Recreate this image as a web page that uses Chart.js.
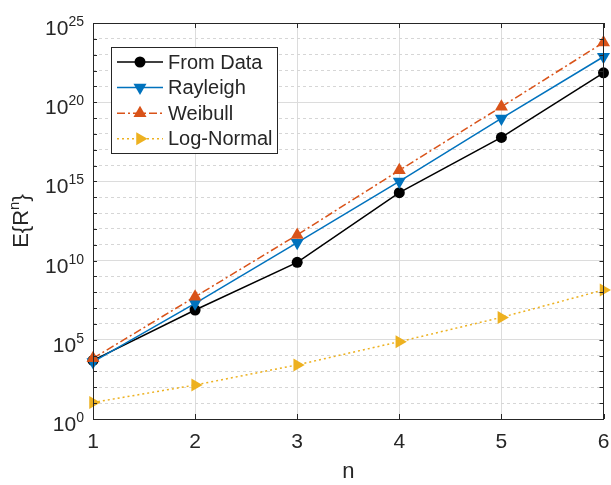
<!DOCTYPE html>
<html>
<head>
<meta charset="utf-8">
<script src="https://cdn.jsdelivr.net/npm/chart.js@4"></script>
<style>
  body { margin: 0; background: #fff; }
  #wrap { width: 611px; height: 485px; }
</style>
</head>
<body>
<div id="wrap"><canvas id="chart" width="611" height="485"></canvas></div>
<script>
// values (log axis)
const nValues = [1, 2, 3, 4, 5, 6];
const fromData = [5.0e3, 7.6e6, 7.8e9, 1.95e14, 6.0e17, 7.2e21];
const rayleigh = [4.0e3, 2.0e7, 1.35e11, 1.0e15, 9.5e18, 7.4e22];
const weibull = [6.8e3, 5.2e7, 4.2e11, 5.0e15, 5.2e19, 5.8e23];
const logNormal = [11, 1.4e2, 2.6e3, 7.6e4, 2.6e6, 1.4e8];
const yTickExps = [0, 5, 10, 15, 20, 25];

const FONT = "'Liberation Sans', Arial, Helvetica, sans-serif";
const AXIS = "#262626";

const toPoints = vals => vals.map((v, i) => ({ x: nValues[i], y: v }));

// draws a marker the same way for plot and legend
function marker(ctx, style, rot, r, x, y, color) {
  ctx.save();
  ctx.fillStyle = color;
  ctx.setLineDash([]);
  ctx.beginPath();
  if (style === "circle") {
    ctx.arc(x, y, r, 0, Math.PI * 2);
  } else {
    let a = rot * Math.PI / 180;
    ctx.moveTo(x + Math.sin(a) * r, y - Math.cos(a) * r);
    a += 2 * Math.PI / 3;
    ctx.lineTo(x + Math.sin(a) * r, y - Math.cos(a) * r);
    a += 2 * Math.PI / 3;
    ctx.lineTo(x + Math.sin(a) * r, y - Math.cos(a) * r);
    ctx.closePath();
  }
  ctx.fill();
  ctx.restore();
}

const frame = {
  id: "frame",
  afterDraw(chart) {
    const { ctx, chartArea: a, scales: { x, y } } = chart;
    ctx.save();
    ctx.strokeStyle = AXIS;
    ctx.lineWidth = 1;
    ctx.setLineDash([]);
    ctx.strokeRect(Math.round(a.left) + 0.5, Math.round(a.top) + 0.5,
      Math.round(a.right - a.left) - 1, Math.round(a.bottom - a.top));

    // inward ticks
    ctx.beginPath();
    for (let e = 0; e <= 25; e++) {
      const py = Math.round(y.getPixelForValue(Math.pow(10, e))) + 0.5;
      ctx.moveTo(a.left, py); ctx.lineTo(a.left + 4, py);
      ctx.moveTo(a.right, py); ctx.lineTo(a.right - 4, py);
    }
    nValues.forEach(n => {
      const px = Math.round(x.getPixelForValue(n)) + 0.5;
      ctx.moveTo(px, a.bottom); ctx.lineTo(px, a.bottom - 5);
      ctx.moveTo(px, a.top); ctx.lineTo(px, a.top + 5);
    });
    ctx.stroke();

    ctx.fillStyle = AXIS;
    ctx.textBaseline = "alphabetic";

    // x tick labels
    ctx.font = "21px " + FONT;
    ctx.textAlign = "center";
    nValues.forEach(n => {
      ctx.fillText(String(n), x.getPixelForValue(n), a.bottom + 29);
    });

    // y tick labels 10^k
    yTickExps.forEach(e => {
      const py = y.getPixelForValue(Math.pow(10, e));
      const right = 84;
      ctx.font = "14px " + FONT;
      const ew = ctx.measureText(String(e)).width;
      ctx.textAlign = "left";
      ctx.fillText(String(e), right - ew, py + 3);
      ctx.font = "21px " + FONT;
      ctx.textAlign = "right";
      ctx.fillText("10", right - ew, py + 12);
    });

    // y title E{R^n}, rotated
    const parts = [["E{R", 22, 0], ["n", 15, -9], ["}", 22, 0]];
    let total = 0;
    parts.forEach(p => { ctx.font = p[1] + "px " + FONT; total += ctx.measureText(p[0]).width; });
    ctx.translate(20, (a.top + a.bottom) / 2);
    ctx.rotate(-Math.PI / 2);
    ctx.textAlign = "left";
    let cx = -total / 2;
    parts.forEach(p => {
      ctx.font = p[1] + "px " + FONT;
      ctx.fillText(p[0], cx, 8 + p[2]);
      cx += ctx.measureText(p[0]).width;
    });
    ctx.restore();
  }
};

const legendBox = {
  id: "legendBox",
  afterDraw(chart) {
    const ctx = chart.ctx;
    const x0 = 111, y0 = 47, w = 166, h = 106;
    ctx.save();
    ctx.fillStyle = "#fff";
    ctx.fillRect(x0, y0, w, h);
    ctx.strokeStyle = AXIS;
    ctx.lineWidth = 1;
    ctx.strokeRect(x0 + 0.5, y0 + 0.5, w, h);
    ctx.font = "20px " + FONT;
    ctx.textBaseline = "middle";
    ctx.textAlign = "left";
    chart.data.datasets.forEach((ds, i) => {
      const cy = 62 + i * 25.6;
      ctx.strokeStyle = ds.borderColor;
      ctx.lineWidth = ds.borderWidth;
      ctx.setLineDash(ds.borderDash || []);
      ctx.beginPath();
      ctx.moveTo(117, cy); ctx.lineTo(163, cy);
      ctx.stroke();
      marker(ctx, ds.pointStyle, ds.pointRotation || 0, ds.pointRadius, 140, cy, ds.borderColor);
      ctx.fillStyle = AXIS;
      ctx.fillText(ds.label, 168, cy + 1);
    });
    ctx.restore();
  }
};

const datasets = [
  { label: "From Data", data: toPoints(fromData), borderColor: "#000000", backgroundColor: "#000000",
    borderWidth: 1.5, pointStyle: "circle", pointRadius: 5.5, order: 4 },
  { label: "Rayleigh", data: toPoints(rayleigh), borderColor: "#0072BD", backgroundColor: "#0072BD",
    borderWidth: 1.5, pointStyle: "triangle", pointRotation: 180, pointRadius: 7.5, order: 3 },
  { label: "Weibull", data: toPoints(weibull), borderColor: "#D95319", backgroundColor: "#D95319",
    borderWidth: 1.5, borderDash: [8, 3, 2, 3], pointStyle: "triangle", pointRotation: 0, pointRadius: 7.5, order: 2 },
  { label: "Log-Normal", data: toPoints(logNormal), borderColor: "#EDB120", backgroundColor: "#EDB120",
    borderWidth: 1.5, borderDash: [2, 3], pointStyle: "triangle", pointRotation: 90, pointRadius: 7.5, order: 1 }
];
datasets.forEach(ds => {
  ds.pointBorderWidth = 0;
  ds.pointHoverRadius = ds.pointRadius;
  ds.tension = 0;
  ds.clip = false;
});

new Chart(document.getElementById("chart"), {
  type: "line",
  data: { datasets },
  options: {
    responsive: false,
    animation: false,
    events: [],
    layout: { padding: { left: 0, top: 23, right: 7, bottom: 0 } },
    plugins: { legend: { display: false }, tooltip: { enabled: false } },
    scales: {
      x: {
        type: "linear",
        min: 1,
        max: 6,
        afterFit: s => { s.height = 66; },
        afterBuildTicks: s => { s.ticks = nValues.map(v => ({ value: v })); },
        border: { display: false },
        grid: { color: "#dcdcdc", lineWidth: 1, drawTicks: false },
        ticks: { display: false },
        title: { display: true, text: "n", color: AXIS, font: { family: FONT, size: 22 }, padding: { top: 0, bottom: 0 } }
      },
      y: {
        type: "logarithmic",
        min: 1,
        max: 1e25,
        afterFit: s => { s.width = 93; },
        afterBuildTicks: s => {
          const t = [];
          for (let e = 0; e <= 25; e++) t.push({ value: Math.pow(10, e) });
          s.ticks = t;
        },
        border: {
          display: false,
          dash: c => (c.tick && Math.round(Math.log10(c.tick.value)) % 5 !== 0) ? [3, 3] : []
        },
        grid: {
          drawTicks: false,
          color: c => (c.tick && Math.round(Math.log10(c.tick.value)) % 5 === 0) ? "#dcdcdc" : "#d6d6d6"
        },
        ticks: { display: false }
      }
    }
  },
  plugins: [frame, legendBox]
});
</script>
</body>
</html>
